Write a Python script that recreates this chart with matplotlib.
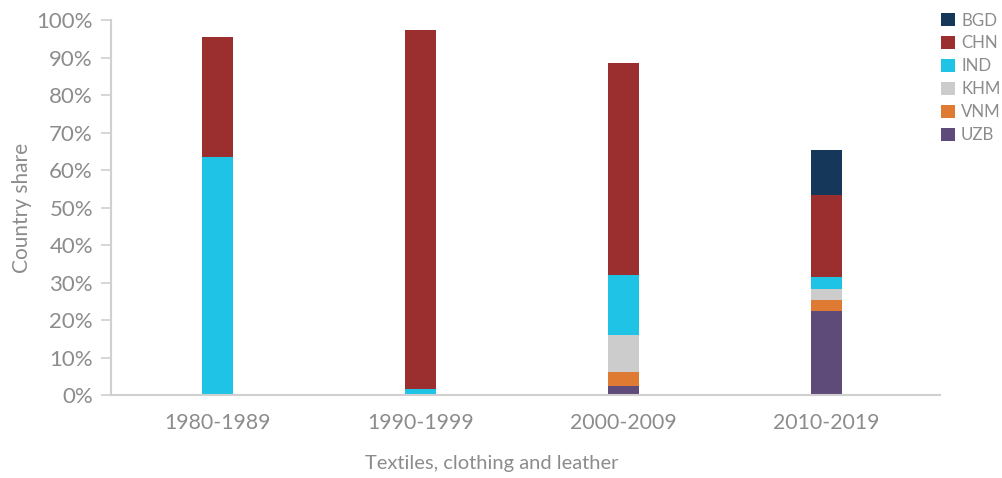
"""Stacked country-share bars for textiles, clothing and leather by decade."""

import numpy as np
import matplotlib.pyplot as plt
from matplotlib.patches import Patch
from matplotlib.ticker import PercentFormatter

decades = ["1980-1989", "1990-1999", "2000-2009", "2010-2019"]

# country shares (fraction of total), stacked bottom to top in this order
uzb = [0.0, 0.0, 0.024, 0.224]
vnm = [0.0, 0.0, 0.037, 0.029]
khm = [0.0, 0.0, 0.099, 0.030]
ind = [0.635, 0.015, 0.160, 0.032]
chn = [0.320, 0.958, 0.565, 0.218]
bgd = [0.0, 0.0, 0.0, 0.120]

series = [
    ("UZB", uzb, "#5f4b7a"),
    ("VNM", vnm, "#df7a33"),
    ("KHM", khm, "#cccccc"),
    ("IND", ind, "#1fc3e6"),
    ("CHN", chn, "#9b2f2f"),
    ("BGD", bgd, "#14375a"),
]

GREY = "#8c8c8c"
plt.rcParams["font.family"] = ["Lato", "DejaVu Sans"]

fig = plt.figure(figsize=(10.03, 4.78), dpi=100)
ax = fig.add_axes([0.1107, 0.1736, 0.8263, 0.7845])

x = np.arange(len(decades))
bottom = np.zeros(len(decades))
for name, vals, color in series:
    vals = np.asarray(vals)
    ax.bar(x, vals, width=0.152, bottom=bottom, color=color, linewidth=0)
    bottom += vals

ax.set_xlim(-0.527, len(decades) - 0.44)
ax.set_ylim(0, 1.0)
ax.set_yticks(np.linspace(0, 1, 11))
ax.yaxis.set_major_formatter(PercentFormatter(1.0, decimals=0))
ax.set_xticks(x)
ax.set_xticklabels(decades)

for side in ("top", "right"):
    ax.spines[side].set_visible(False)
for side in ("left", "bottom"):
    ax.spines[side].set_color("#d0d0d0")
    ax.spines[side].set_linewidth(1.5)

ax.tick_params(axis="y", direction="out", length=7, width=1.2, color="#d0d0d0",
               labelcolor=GREY, labelsize=16, pad=6)
ax.tick_params(axis="x", length=0, labelcolor=GREY, labelsize=15.3, pad=13)

ax.set_ylabel("Country share", color=GREY, fontsize=15, labelpad=3)
fig.text(0.49, 0.031, "Textiles, clothing and leather", color=GREY,
         fontsize=14.5, ha="center", va="center")

handles = [Patch(facecolor=c, label=n) for n, _, c in reversed(series)]
leg = fig.legend(handles=handles, loc="upper left", bbox_to_anchor=(0.931, 0.988),
                 frameon=False, handlelength=0.83, handleheight=0.83,
                 handletextpad=0.38, labelspacing=0.41, fontsize=12.2,
                 borderaxespad=0)
for t in leg.get_texts():
    t.set_color(GREY)

fig.savefig("out.png", dpi=100)
